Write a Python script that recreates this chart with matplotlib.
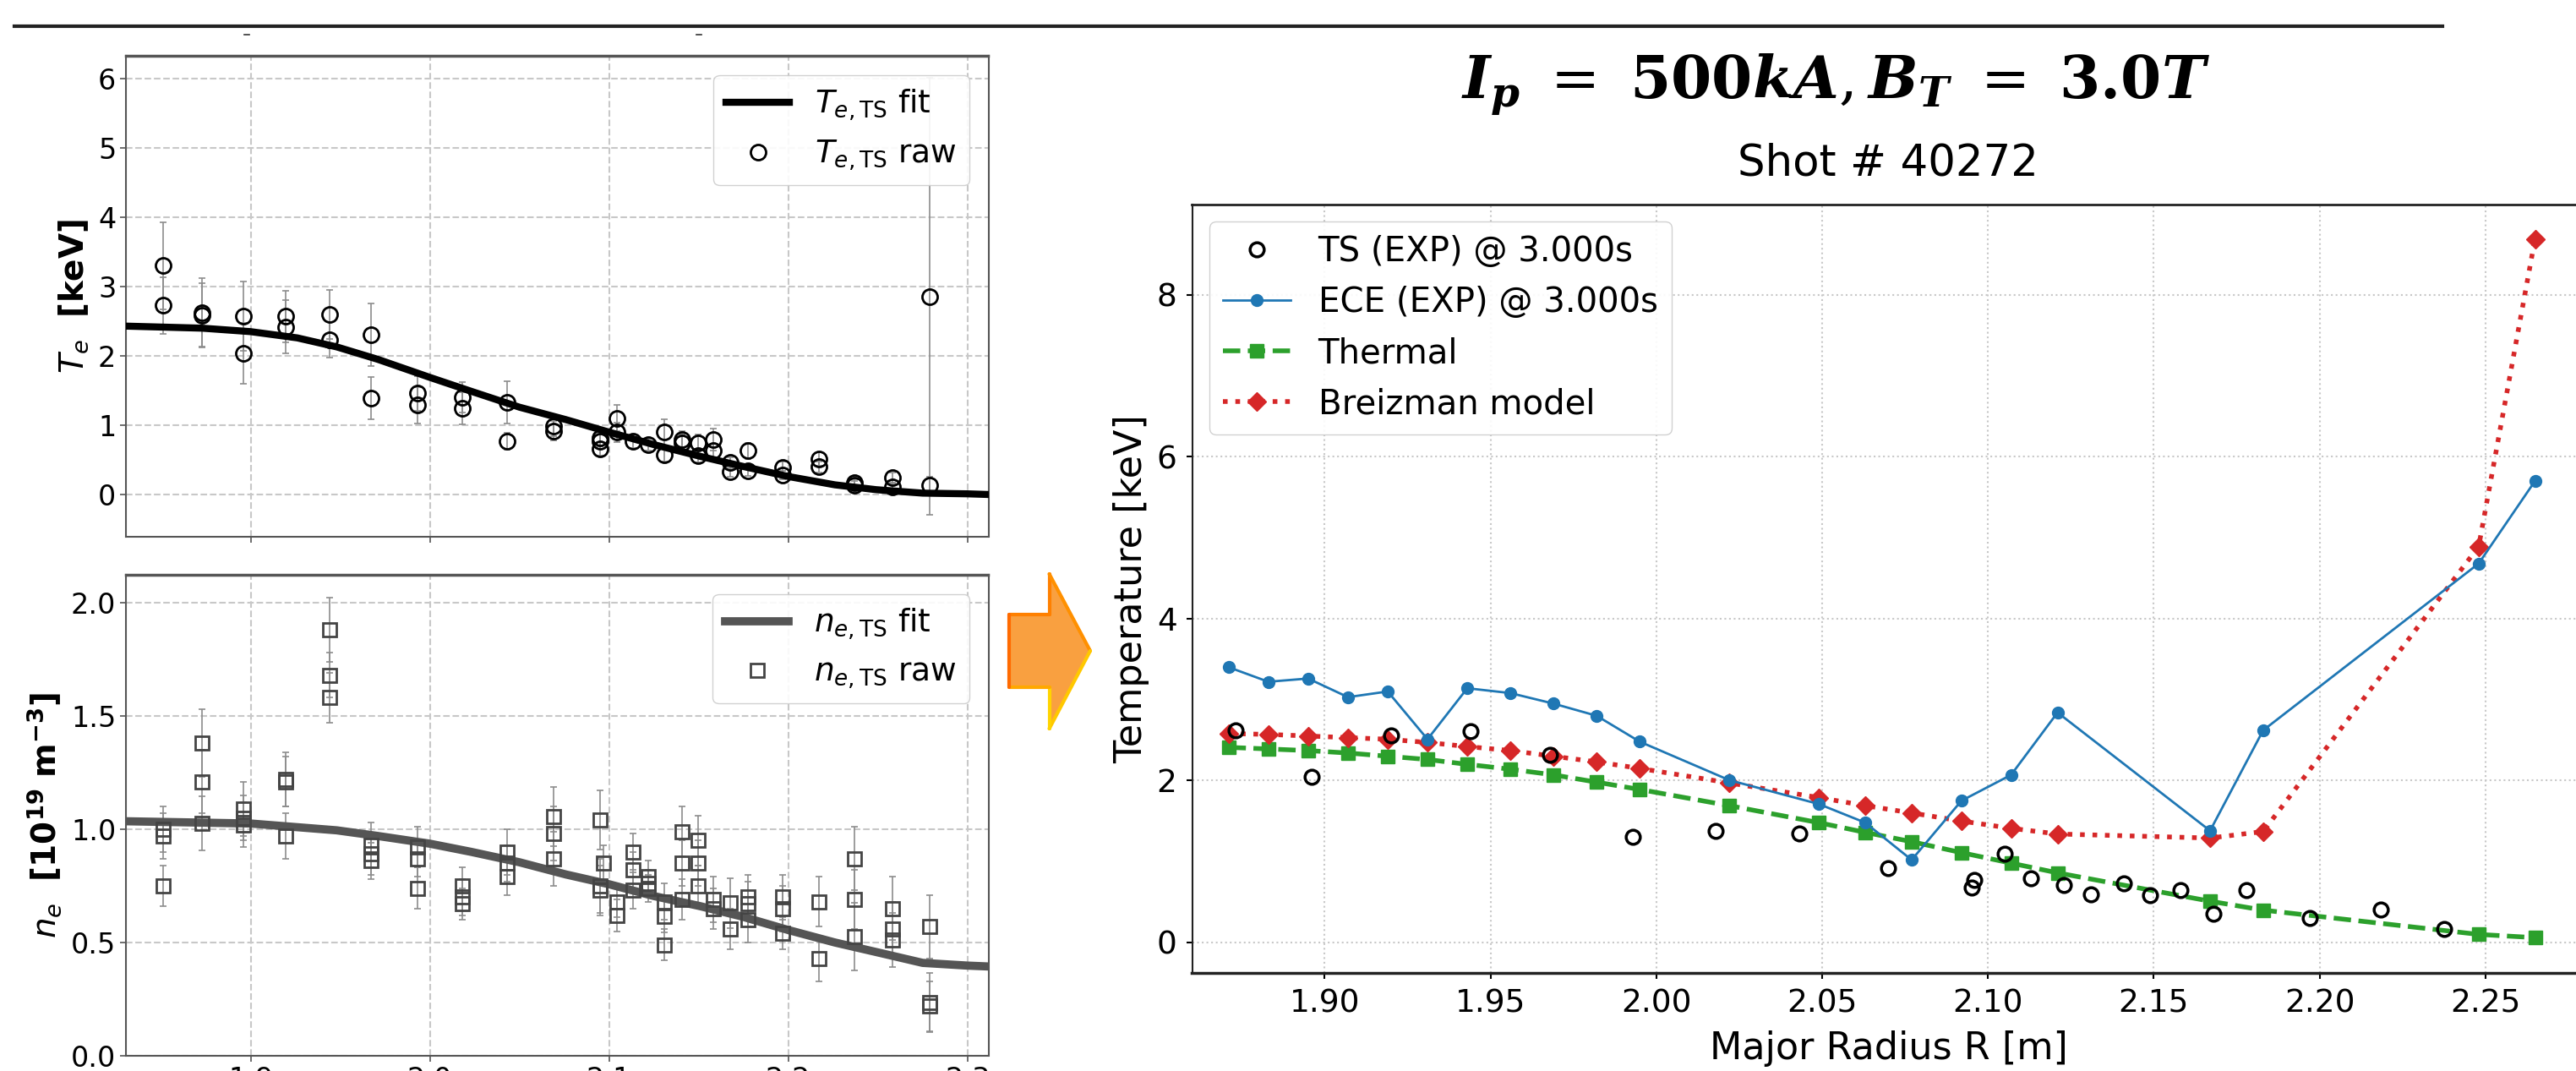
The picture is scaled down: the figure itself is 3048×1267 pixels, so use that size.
import numpy as np
import matplotlib
matplotlib.use("Agg")
import matplotlib.pyplot as plt
from matplotlib.patches import Polygon
from matplotlib.lines import Line2D

# ---- left panels: TS raw data (several time slices) ----
te_r = [1.851, 1.851, 1.873, 1.873, 1.896, 1.896, 1.9195, 1.9195, 1.944, 1.944,
        1.967, 1.967, 1.993, 1.993, 2.018, 2.018, 2.043, 2.043, 2.069, 2.069,
        2.095, 2.095, 2.095, 2.1045, 2.1045, 2.1136, 2.122, 2.131, 2.131,
        2.1407, 2.1407, 2.1497, 2.1497, 2.158, 2.158, 2.1677, 2.1677,
        2.1775, 2.1775, 2.197, 2.197, 2.217, 2.217, 2.237, 2.237,
        2.258, 2.258, 2.279, 2.279]
te_v = [3.30, 2.73, 2.62, 2.59, 2.57, 2.04, 2.57, 2.42, 2.60, 2.23,
        2.31, 1.39, 1.46, 1.29, 1.40, 1.24, 1.33, 0.77, 0.99, 0.92,
        0.82, 0.77, 0.66, 1.10, 0.90, 0.77, 0.72, 0.90, 0.57,
        0.79, 0.75, 0.75, 0.56, 0.79, 0.63, 0.46, 0.33,
        0.63, 0.34, 0.39, 0.28, 0.51, 0.40, 0.17, 0.14,
        0.24, 0.11, 2.86, 0.13]
te_err = [0.63, 0.41, 0.50, 0.46, 0.50, 0.44, 0.37, 0.38, 0.35, 0.26,
          0.45, 0.30, 0.25, 0.26, 0.22, 0.23, 0.30, 0.12, 0.15, 0.14,
          0.12, 0.11, 0.10, 0.19, 0.14, 0.10, 0.09, 0.19, 0.10,
          0.12, 0.11, 0.12, 0.10, 0.16, 0.10, 0.08, 0.07,
          0.12, 0.07, 0.08, 0.06, 0.10, 0.08, 0.05, 0.05,
          0.08, 0.06, 3.15, 0.13]

te_fit_r = [1.830, 1.873, 1.900, 1.926, 1.948, 1.971, 2.000, 2.023, 2.050, 2.076,
            2.100, 2.125, 2.151, 2.174, 2.200, 2.226, 2.249, 2.275, 2.300, 2.312]
te_fit_v = [2.43, 2.40, 2.35, 2.26, 2.13, 1.95, 1.69, 1.49, 1.26, 1.08,
            0.90, 0.72, 0.55, 0.41, 0.26, 0.14, 0.07, 0.02, 0.01, 0.00]

ne_r = [1.851, 1.851, 1.851, 1.873, 1.873, 1.873, 1.896, 1.896, 1.896,
        1.9195, 1.9195, 1.9195, 1.944, 1.944, 1.944, 1.967, 1.967, 1.967,
        1.993, 1.993, 1.993, 2.018, 2.018, 2.018, 2.043, 2.043, 2.043,
        2.069, 2.069, 2.069, 2.095, 2.095, 2.095, 2.097, 2.1045, 2.1045,
        2.1136, 2.1136, 2.1136, 2.122, 2.122, 2.122, 2.131, 2.131, 2.131,
        2.1407, 2.1407, 2.1407, 2.1497, 2.1497, 2.1497, 2.158, 2.158,
        2.1677, 2.1677, 2.1775, 2.1775, 2.1775, 2.197, 2.197, 2.197,
        2.217, 2.217, 2.237, 2.237, 2.237, 2.258, 2.258, 2.258,
        2.279, 2.279, 2.279]
ne_v = [1.00, 0.97, 0.75, 1.38, 1.21, 1.025, 1.09, 1.05, 1.02,
        1.22, 1.21, 0.97, 1.88, 1.68, 1.58, 0.93, 0.89, 0.86,
        0.92, 0.87, 0.74, 0.75, 0.70, 0.67, 0.90, 0.85, 0.79,
        1.055, 0.98, 0.87, 1.04, 0.75, 0.73, 0.85, 0.68, 0.62,
        0.90, 0.82, 0.73, 0.79, 0.76, 0.74, 0.68, 0.615, 0.49,
        0.99, 0.85, 0.69, 0.95, 0.85, 0.75, 0.69, 0.65,
        0.675, 0.56, 0.70, 0.67, 0.60, 0.70, 0.65, 0.54,
        0.68, 0.43, 0.87, 0.69, 0.525, 0.65, 0.56, 0.51,
        0.57, 0.234, 0.219]
ne_err = [0.10, 0.10, 0.09, 0.15, 0.14, 0.12, 0.12, 0.10, 0.10,
          0.12, 0.11, 0.10, 0.14, 0.10, 0.11, 0.10, 0.09, 0.08,
          0.09, 0.08, 0.09, 0.08, 0.08, 0.07, 0.10, 0.08, 0.08,
          0.13, 0.12, 0.12, 0.13, 0.12, 0.11, 0.08, 0.07, 0.07,
          0.08, 0.08, 0.08, 0.07, 0.06, 0.06, 0.08, 0.07, 0.07,
          0.11, 0.10, 0.09, 0.11, 0.10, 0.09, 0.10, 0.09,
          0.11, 0.09, 0.10, 0.10, 0.10, 0.10, 0.10, 0.07,
          0.11, 0.10, 0.14, 0.13, 0.15, 0.14, 0.12, 0.12,
          0.14, 0.13, 0.11]

ne_fit_r = [1.830, 1.900, 1.948, 1.971, 2.000, 2.023, 2.050, 2.076, 2.100,
            2.125, 2.151, 2.174, 2.200, 2.226, 2.249, 2.275, 2.300, 2.312]
ne_fit_v = [1.035, 1.025, 0.995, 0.97, 0.936, 0.90, 0.854, 0.80, 0.757,
            0.705, 0.66, 0.615, 0.555, 0.50, 0.458, 0.41, 0.398, 0.394]

# ---- right panel: profiles at 3.000 s ----
ts_r = [1.873, 1.896, 1.920, 1.944, 1.968, 1.993, 2.018, 2.043, 2.070, 2.095,
        2.096, 2.105, 2.113, 2.123, 2.131, 2.141, 2.149, 2.158, 2.168, 2.178,
        2.197, 2.2186, 2.2375]
ts_t = [2.62, 2.05, 2.56, 2.61, 2.32, 1.30, 1.38, 1.35, 0.92, 0.68,
        0.77, 1.10, 0.79, 0.71, 0.59, 0.73, 0.58, 0.645, 0.35, 0.645,
        0.30, 0.41, 0.17]

mod_r = [1.871, 1.883, 1.895, 1.907, 1.919, 1.931, 1.943, 1.956, 1.969, 1.982,
         1.995, 2.022, 2.049, 2.063, 2.077, 2.092, 2.107, 2.121, 2.167, 2.183,
         2.248, 2.265]
ece_t = [3.40, 3.22, 3.26, 3.03, 3.10, 2.51, 3.14, 3.08, 2.95, 2.80,
         2.48, 2.005, 1.71, 1.48, 1.02, 1.75, 2.07, 2.84, 1.38, 2.62,
         4.68, 5.70]
thermal_t = [2.41, 2.39, 2.37, 2.34, 2.30, 2.26, 2.20, 2.14, 2.07, 1.98,
             1.89, 1.69, 1.48, 1.36, 1.245, 1.11, 0.98, 0.86, 0.51, 0.40,
             0.10, 0.06]
breizman_t = [2.58, 2.57, 2.55, 2.53, 2.51, 2.47, 2.42, 2.37, 2.30, 2.23,
              2.15, 1.97, 1.79, 1.69, 1.60, 1.50, 1.41, 1.34, 1.29, 1.37,
              4.89, 8.69]

W, H = 3048, 1267
fig = plt.figure(figsize=(W / 100, H / 100), dpi=100)
fig.patch.set_facecolor("white")


def rect(x0, y0, x1, y1):
    # pixel box (top-left origin) -> figure fraction
    return [x0 / W, 1 - y1 / H, (x1 - x0) / W, (y1 - y0) / H]


# slide decorations: rule at the top and remnants of cropped text
fig.add_artist(Line2D([17 / W, 2890 / W], [1 - 31 / H] * 2, color="#222222", lw=3))
for xd in (292, 827):
    fig.add_artist(Line2D([(xd - 3) / W, (xd + 3) / W], [1 - 41 / H] * 2,
                          color="#333333", lw=1.2))

# ---------------- left top: Te ----------------
ax1 = fig.add_axes(rect(149, 66, 1169.5, 634.7))
ax1.errorbar(te_r, te_v, yerr=te_err, fmt="none", ecolor="#8c8c8c",
             elinewidth=1.2, capsize=3, capthick=1.2, zorder=2)
ax1.plot(te_fit_r, te_fit_v, color="black", lw=6, zorder=3,
         label=r"$T_{e,\mathrm{TS}}$ fit")
ax1.plot(te_r, te_v, "o", mfc="none", mec="black", mew=2, ms=13, zorder=4,
         label=r"$T_{e,\mathrm{TS}}$ raw")
ax1.set_xlim(1.8304, 2.3117)
ax1.set_ylim(-0.606, 6.33)
ax1.set_xticks([1.9, 2.0, 2.1, 2.2, 2.3])
ax1.set_xticklabels([])
ax1.set_yticks([0, 1, 2, 3, 4, 5, 6])
ax1.set_ylabel(r"$T_e$  $\bf{[keV]}$", fontsize=28, labelpad=6)
ax1.legend(loc="upper right", fontsize=27, framealpha=0.9, edgecolor="#cccccc",
           borderaxespad=0.6)

# ---------------- left bottom: ne ----------------
ax2 = fig.add_axes(rect(149, 680.4, 1169.5, 1249))
ax2.errorbar(ne_r, ne_v, yerr=ne_err, fmt="none", ecolor="#8c8c8c",
             elinewidth=1.2, capsize=3, capthick=1.2, zorder=2)
ax2.plot(ne_fit_r, ne_fit_v, color="#555555", lw=7, zorder=3,
         label=r"$n_{e,\mathrm{TS}}$ fit")
ax2.plot(ne_r, ne_v, "s", mfc="none", mec="#444444", mew=2, ms=12, zorder=4,
         label=r"$n_{e,\mathrm{TS}}$ raw")
ax2.set_xlim(1.8304, 2.3117)
ax2.set_ylim(0.0, 2.121)
ax2.set_xticks([1.9, 2.0, 2.1, 2.2, 2.3])
ax2.set_yticks([0.0, 0.5, 1.0, 1.5, 2.0])
ax2.set_yticklabels(["0.0", "0.5", "1.0", "1.5", "2.0"])
ax2.set_ylabel(r"$n_e$  $\bf{[10^{19}\ m^{-3}]}$", fontsize=28, labelpad=6)
ax2.legend(loc="upper right", fontsize=27, framealpha=0.9, edgecolor="#cccccc",
           borderaxespad=0.6)

for ax in (ax1, ax2):
    ax.grid(True, ls="--", color="#c8c8c8", lw=1.5)
    ax.tick_params(labelsize=24, length=5, width=1.2, color="#555555")
    for s in ax.spines.values():
        s.set_color("#555555")
        s.set_linewidth(1.5)
    ax.spines["top"].set_linewidth(2.5)
    ax.set_axisbelow(True)

# ---------------- orange arrow ----------------
arrow_px = [(1194, 727), (1241.5, 727), (1241.5, 679), (1290, 770),
            (1241.5, 862), (1241.5, 813), (1194, 813)]
arrow = Polygon([(x / W, 1 - y / H) for x, y in arrow_px], closed=True,
                transform=fig.transFigure, facecolor="#F9A040",
                edgecolor="none")
fig.add_artist(arrow)
edge_cols = ["#FF8000", "#FF8000", "#FF9000", "#FFC800", "#FFD400", "#FFA800", "#FF6A00"]
for i in range(len(arrow_px)):
    (xa, ya), (xb, yb) = arrow_px[i], arrow_px[(i + 1) % len(arrow_px)]
    fig.add_artist(Line2D([xa / W, xb / W], [1 - ya / H, 1 - yb / H],
                          color=edge_cols[i], lw=3, solid_capstyle="round"))

# ---------------- right panel ----------------
ax3 = fig.add_axes(rect(1410.5, 241.7, 3058.4, 1151))
ax3.plot(ts_r, ts_t, "o", mfc="none", mec="black", mew=2.5, ms=12,
         label="TS (EXP) @ 3.000s", zorder=5)
ax3.plot(mod_r, ece_t, "-o", color="#1f77b4", lw=2, ms=10,
         label="ECE (EXP) @ 3.000s", zorder=4)
ax3.plot(mod_r, thermal_t, "--s", color="#2ca02c", lw=4, ms=12,
         label="Thermal", zorder=3)
ax3.plot(mod_r, breizman_t, ":D", color="#d62728", lw=4, ms=11,
         label="Breizman model", zorder=3)
ax3.set_xlim(1.860, 2.280)
ax3.set_ylim(-0.376, 9.116)
ax3.set_xticks([1.90, 1.95, 2.00, 2.05, 2.10, 2.15, 2.20, 2.25])
ax3.set_xticklabels(["1.90", "1.95", "2.00", "2.05", "2.10", "2.15", "2.20", "2.25"])
ax3.set_yticks([0, 2, 4, 6, 8])
ax3.grid(True, ls=":", color="#c8c8c8", lw=1.5)
ax3.tick_params(labelsize=27, length=5, width=1.5, pad=8)
ax3.set_xlabel("Major Radius R [m]", fontsize=32, labelpad=10)
ax3.set_ylabel("Temperature [keV]", fontsize=32, labelpad=6)
for s in ax3.spines.values():
    s.set_color("#222222")
    s.set_linewidth(1.5)
ax3.spines["bottom"].set_linewidth(2.5)
ax3.spines["top"].set_linewidth(2)
ax3.legend(loc="upper left", fontsize=29, framealpha=0.9, edgecolor="#cccccc",
           borderaxespad=0.5)

# titles
fig.text(2172 / W, 1 - 100 / H,
         r"$\mathbfit{I_p}\ =\ \mathbf{500}\mathbfit{kA},\mathbfit{B_T}\ =\ \mathbf{3.0}\mathbfit{T}$",
         fontsize=50, ha="center", va="center", math_fontfamily="dejavuserif")
fig.text(2234 / W, 1 - 207 / H, "Shot # 40272", fontsize=37,
         ha="center", va="baseline")

fig.savefig("out.png", dpi=100, facecolor="white")
